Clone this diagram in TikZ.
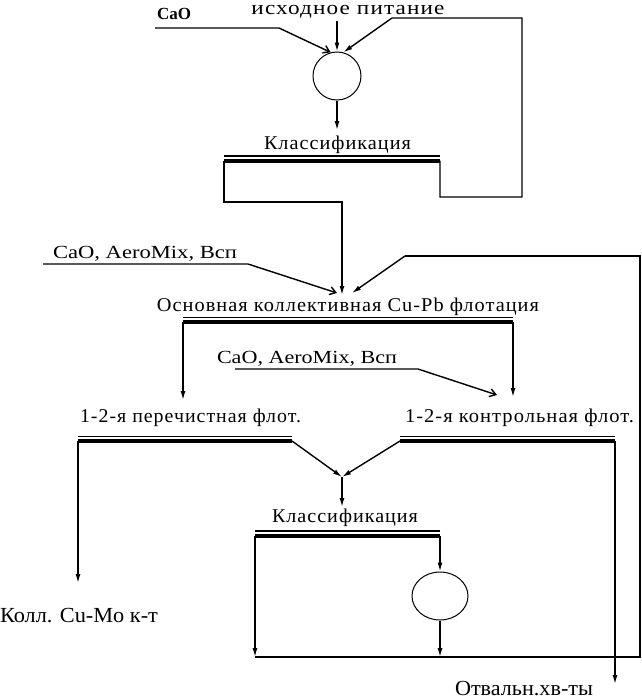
\documentclass[tikz,border=0pt]{standalone}
\usepackage{fontspec}
\usepackage{graphicx}
\setmainfont{Liberation Serif}
\newfontfamily\lsfont[LetterSpace=5]{Liberation Serif}
\usetikzlibrary{arrows.meta,shapes.geometric}
\newcommand{\fitw}[2]{\resizebox{#1}{\height}{#2}}
\newcommand{\txA}[2]{\fitw{#1}{\fontsize{18.5}{20}\selectfont #2}}
\newcommand{\txL}[2]{\fitw{#1}{\lsfont\fontsize{19.5}{22}\selectfont #2}}
\newcommand{\txB}[2]{\fitw{#1}{\fontsize{21.5}{24}\selectfont #2}}
\newcommand{\fbar}[3]{%
  \draw[line width=1.3pt] (#1,#3-4.5) -- (#2,#3-4.5);
  \draw[line width=4pt] (#1,#3) -- (#2,#3);}
\begin{document}
\begin{tikzpicture}[x=1pt,y=-1pt,
  line width=1.4pt, line join=miter,
  lab/.style={inner sep=0pt, outer sep=0pt},
  flow/.style={-{Latex[length=9pt,width=5pt]}},
  feed/.style={-{Straight Barb[length=6pt,width=8pt]}},
  mixer/.style={draw, line width=1pt, circle, minimum size=48pt, inner sep=0pt},
  mixerb/.style={draw, line width=1pt, ellipse, minimum width=56pt, minimum height=48pt, inner sep=0pt}]
\useasboundingbox (0,0) rectangle (641,699);

% ---------- texts ----------
\node[lab, anchor=base] (feedlbl) at (348,14.5) {\txL{193pt}{исходное питание}};
\node[lab, anchor=base west] (cao1) at (157,19) {\fitw{34pt}{\fontsize{17}{20}\selectfont\bfseries CaO}};
\node[lab, anchor=base west] (klass1) at (264,149) {\txL{147pt}{Классификация}};
\node[lab, anchor=base west] (cao2) at (53,258) {\txA{184pt}{CaO, AeroMix, Всп}};
\node[lab, anchor=base] (osn) at (348,311) {\txL{382pt}{Основная коллективная Cu-Pb флотация}};
\node[lab, anchor=base west] (cao3) at (217,363) {\txA{180pt}{CaO, AeroMix, Всп}};
\node[lab, anchor=base west] (per) at (80,422) {\txL{221pt}{1-2-я перечистная флот.}};
\node[lab, anchor=base west] (kon) at (405,422) {\txL{229pt}{1-2-я контрольная флот.}};
\node[lab, anchor=base west] (klass2) at (272,522) {\txL{146pt}{Классификация}};
\node[lab, anchor=base west] (coll) at (0,622) {\txB{158pt}{Колл. Cu-Mo к-т}};
\node[lab, anchor=base west] (tail) at (455,695) {\txB{138pt}{Отвальн.хв-ты}};

% ---------- mixers ----------
\node[mixer] (mix1) at (337,76) {};
\node[mixerb] (mix2) at (440,596) {};

% ---------- bars ----------
\fbar{224}{440}{160.5}
\fbar{183}{513}{322}
\fbar{78}{292}{441}
\fbar{400}{615}{441}
\fbar{255}{440}{535.5}

% ---------- coordinates ----------
\coordinate (k1L) at (224,160.5);
\coordinate (k1R) at (440,160.5);
\coordinate (c1a) at (155,28);
\coordinate (c1b) at (279,28);
\coordinate (ftop) at (337,21);
\coordinate (r1) at (440,197);
\coordinate (r2) at (522,197);
\coordinate (r3) at (522,18);
\coordinate (r4) at (392,18);
\coordinate (k1in) at (337,130);
\coordinate (l1) at (224,202);
\coordinate (l2) at (342,202);
\coordinate (osnin) at (342,295);
\coordinate (c2a) at (43,264);
\coordinate (c2b) at (248,264);
\coordinate (c2t) at (337,293);
\coordinate (osnR) at (352,293);
\coordinate (q1) at (640,657);
\coordinate (q2) at (640,256);
\coordinate (q3) at (405,256);
\coordinate (oL) at (183,322);
\coordinate (oR) at (513,322);
\coordinate (perin) at (183,400);
\coordinate (konin) at (513,397);
\coordinate (c3a) at (235,369);
\coordinate (c3b) at (418,369);
\coordinate (c3t) at (497,395);
\coordinate (pL) at (78,441);
\coordinate (pR) at (292,441);
\coordinate (kL) at (400,441);
\coordinate (kR) at (615,441);
\coordinate (merge) at (342,477);
\coordinate (k2in) at (342,507);
\coordinate (collin) at (78,583);
\coordinate (tailin) at (615,684);
\coordinate (k2L) at (255,535.5);
\coordinate (k2R) at (440,535.5);
\coordinate (bL) at (255,657);
\coordinate (bM) at (440,657);

% ---------- connectors ----------
\draw[feed] (c1a) -- (c1b) -- (mix1.105);
\draw[flow] (ftop) -- (mix1.north);
\draw[flow] (k1R) -- (r1) -- (r2) -- (r3) -- (r4) -- (mix1.75);
\draw[flow] (mix1.south) -- (k1in);
\draw[flow] (k1L) -- (l1) -- (l2) -- (osnin);
\draw[feed] (c2a) -- (c2b) -- (c2t);
\draw (bL) -- (q1) -- (q2) -- (q3);
\draw[flow] (q3) -- (osnR);
\draw[flow] (oL) -- (perin);
\draw[flow] (oR) -- (konin);
\draw[feed] (c3a) -- (c3b) -- (c3t);
\draw[flow] (pR) -- (merge);
\draw[flow] (kL) -- (merge);
\draw[flow] (merge) -- (k2in);
\draw[flow] (pL) -- (collin);
\draw[flow] (kR) -- (tailin);
\draw[flow] (k2L) -- (bL);
\draw[flow] (k2R) -- (mix2.north);
\draw[flow] (mix2.south) -- (bM);
\end{tikzpicture}
\end{document}
